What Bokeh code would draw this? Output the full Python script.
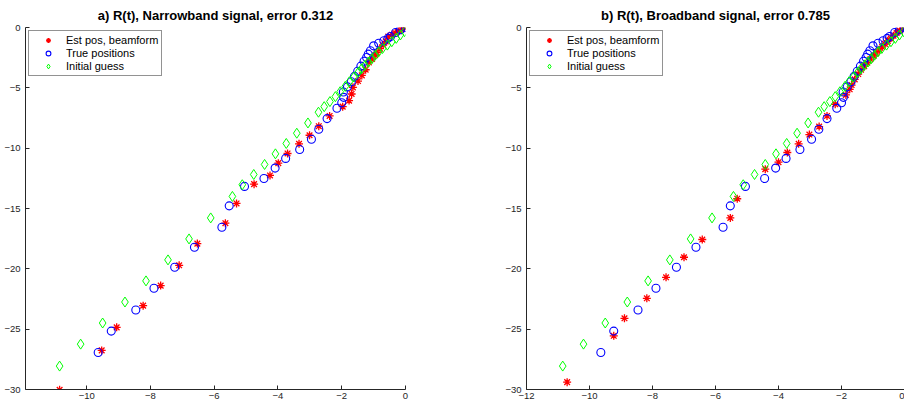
from bokeh.plotting import figure
from bokeh.layouts import row
from bokeh.models import Legend, LegendItem, Range1d, FixedTicker
from bokeh.embed import file_html
from bokeh.resources import INLINE

# ---- data ----
green_x = [-10.85, -10.19, -9.50, -8.80, -8.14, -7.45, -6.79, -6.11, -5.43,
           -5.12, -4.76, -4.42, -4.08, -3.74, -3.41, -3.06, -2.73,
           -2.55, -2.37, -2.20, -2.05, -1.89, -1.76, -1.62, -1.48,
           -1.38, -1.27, -1.16, -1.05, -0.95, -0.84, -0.72, -0.57, -0.43, -0.29, -0.16, -0.03]
green_y = [-28.06, -26.24, -24.49, -22.75, -21.00, -19.26, -17.52, -15.78, -14.00,
           -13.03, -12.18, -11.35, -10.47, -9.61, -8.76, -7.91, -7.02,
           -6.56, -6.14, -5.73, -5.32, -4.88, -4.49, -4.10, -3.70,
           -3.42, -3.14, -2.86, -2.58, -2.30, -2.02, -1.74, -1.46, -1.18, -0.90, -0.62, -0.34]

blue_x = [-9.64, -9.23, -8.46, -7.89, -7.24, -6.62, -5.76, -5.53, -5.05,
          -4.44, -4.09, -3.76, -3.32, -2.95, -2.72, -2.46, -2.15,
          -2.00, -1.94, -1.95, -1.82, -1.70, -1.60, -1.50, -1.40,
          -1.30, -1.22, -1.17, -1.10, -1.00, -0.84, -0.68, -0.55, -0.47, -0.31, -0.16, 0.00]
blue_y = [-26.93, -25.16, -23.41, -21.61, -19.87, -18.21, -16.55, -14.78, -13.17,
          -12.51, -11.65, -10.85, -10.11, -9.26, -8.43, -7.55, -6.69,
          -6.23, -5.79, -5.34, -4.92, -4.50, -4.05, -3.62, -3.20,
          -2.80, -2.48, -2.21, -1.93, -1.52, -1.30, -1.10, -0.90, -0.75, -0.41, -0.19, 0.00]

red_a_x = [-10.85, -9.53, -9.06, -8.23, -7.68, -7.10, -6.53, -5.65, -5.30,
           -4.75, -4.25, -3.99, -3.70, -3.34, -3.01, -2.72, -2.38,
           -1.97, -1.77, -1.69, -1.65, -1.49, -1.37, -1.25, -1.15,
           -1.05, -0.95, -0.90, -0.80, -0.70, -0.62, -0.54, -0.42, -0.32, -0.21, -0.12, -0.04]
red_a_y = [-30.03, -26.76, -24.85, -23.05, -21.39, -19.71, -17.91, -16.22, -14.58,
           -12.98, -12.26, -11.24, -10.44, -9.64, -8.93, -8.18, -7.33,
           -6.56, -6.06, -5.51, -4.96, -4.44, -3.97, -3.50, -2.90,
           -2.60, -2.30, -2.07, -1.75, -1.45, -1.15, -0.75, -0.60, -0.45, -0.30, -0.14, -0.04]

red_b_x = [-10.71, -9.23, -8.89, -8.18, -7.57, -7.00, -6.42, -5.53, -5.31,
           -4.42, -4.00, -3.72, -3.36, -3.02, -2.71, -2.46, -2.20,
           -1.86, -1.74, -1.68, -1.58, -1.47, -1.38, -1.28, -1.18,
           -1.08, -0.98, -0.90, -0.80, -0.71, -0.62, -0.53, -0.44, -0.35, -0.25, -0.15, -0.05]
red_b_y = [-29.39, -25.55, -24.10, -22.44, -20.70, -19.04, -17.57, -15.78, -14.19,
           -11.74, -11.16, -10.36, -9.64, -8.87, -8.21, -7.33, -6.36,
           -5.59, -5.12, -4.77, -4.30, -3.86, -3.50, -3.20, -2.92,
           -2.62, -2.35, -2.10, -1.85, -1.60, -1.36, -1.12, -0.90, -0.68, -0.46, -0.26, -0.08]

titles = ["a) R(t), Narrowband signal, error 0.312", "b) R(t), Broadband signal, error 0.785"]
legend_labels = ["Est pos, beamform", "True positions", "Initial guess"]
x_ticks_a = [-10, -8, -6, -4, -2, 0]
x_ticks_b = [-12, -10, -8, -6, -4, -2, 0]
y_ticks = [-30, -25, -20, -15, -10, -5, 0]

AX = "#262626"
FONT = "Liberation Sans"


def make(title, rx, ry, xr, xticks, width, bl, br):
    p = figure(width=width, height=403, output_backend="svg", toolbar_location=None,
               x_range=Range1d(*xr), y_range=Range1d(-30, 0),
               min_border_left=bl, min_border_right=br, min_border_top=27, min_border_bottom=14)
    p.title.text = title
    p.title.align = "center"
    p.title.text_font = FONT
    p.title.text_font_size = "13px"
    p.title.text_font_style = "bold"
    p.title.text_color = "black"
    p.grid.visible = False
    p.outline_line_color = None
    p.background_fill_color = "white"
    p.border_fill_color = "white"
    for ax in (p.xaxis, p.yaxis):
        ax.axis_line_color = AX
        ax.major_tick_line_color = AX
        ax.minor_tick_line_color = None
        ax.major_tick_in = 4
        ax.major_tick_out = 0
        ax.major_label_text_font = FONT
        ax.major_label_text_font_size = "9.5px"
        ax.major_label_text_color = AX
    p.xaxis.ticker = FixedTicker(ticks=xticks)
    p.yaxis.ticker = FixedTicker(ticks=y_ticks)
    p.xaxis.major_label_standoff = 3
    p.yaxis.major_label_standoff = 5

    r1 = p.scatter(rx, ry, marker="asterisk", size=8, line_color="red", line_width=1.3)
    r2 = p.scatter(blue_x, blue_y, marker="circle", size=8, fill_color=None,
                   line_color="blue", line_width=1.1)
    r3 = p.scatter(green_x, green_y, marker="diamond", size=10, fill_color=None,
                   line_color="lime", line_width=1)
    leg = Legend(items=[LegendItem(label=legend_labels[0], renderers=[r1]),
                        LegendItem(label=legend_labels[1], renderers=[r2]),
                        LegendItem(label=legend_labels[2], renderers=[r3])],
                 location="top_left")
    leg.margin = 3
    leg.padding = 3
    leg.spacing = 1
    leg.glyph_width = 32
    leg.glyph_height = 12
    leg.label_height = 12
    leg.label_standoff = 2
    leg.label_text_font = FONT
    leg.label_text_font_size = "11px"
    leg.label_text_color = "black"
    leg.border_line_color = AX
    leg.border_line_width = 1
    leg.background_fill_color = "white"
    leg.background_fill_alpha = 1
    p.add_layout(leg)
    return p


pa = make(titles[0], red_a_x, red_a_y, (-11.92, 0), x_ticks_a, 452, 25, 47)
pb = make(titles[1], red_b_x, red_b_y, (-12, 0), x_ticks_b, 452, 74, 0)
layout = row(pa, pb)
open("out.html", "w").write(file_html(layout, INLINE))
